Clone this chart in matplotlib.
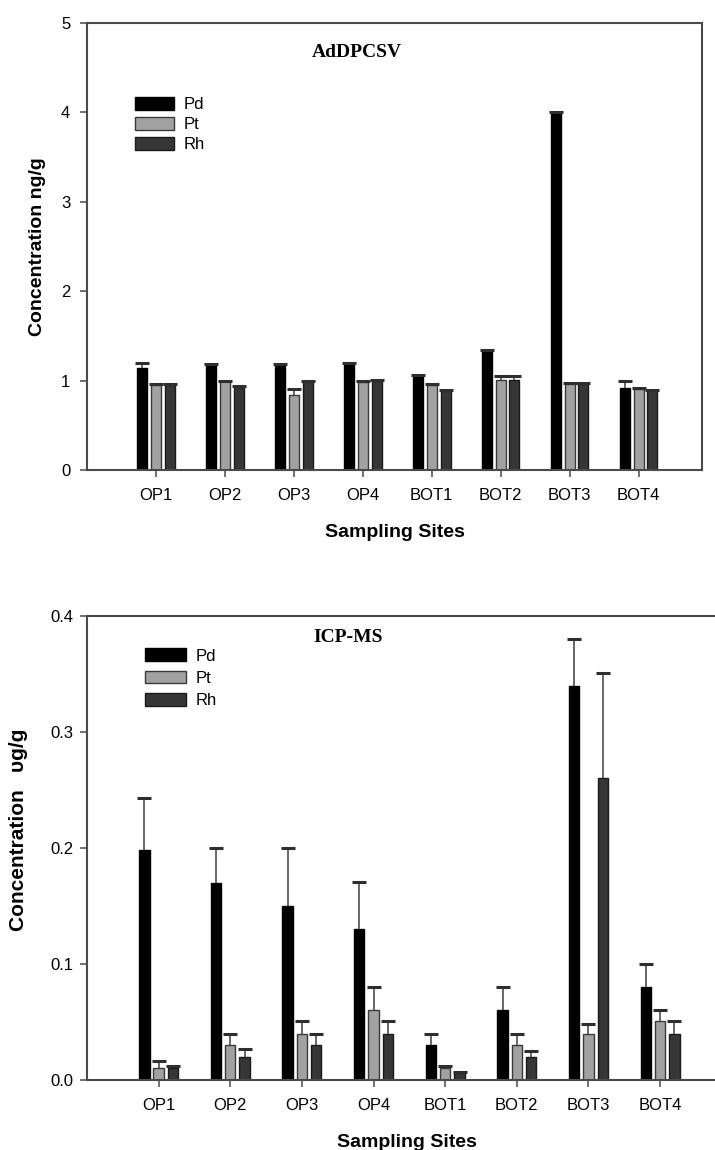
import numpy as np
import matplotlib
matplotlib.use("Agg")
import matplotlib.pyplot as plt

sites = ["OP1", "OP2", "OP3", "OP4", "BOT1", "BOT2", "BOT3", "BOT4"]
metals = ["Pd", "Pt", "Rh"]

# AdDPCSV results (ng/g) and upper error bars
adsv_pd = [1.14, 1.18, 1.18, 1.18, 1.05, 1.33, 4.00, 0.92]
adsv_pt = [0.95, 0.99, 0.84, 0.98, 0.95, 1.01, 0.96, 0.91]
adsv_rh = [0.95, 0.93, 0.99, 1.00, 0.88, 1.01, 0.96, 0.89]
adsv_pd_err = [0.06, 0.01, 0.01, 0.02, 0.01, 0.01, 0.01, 0.07]
adsv_pt_err = [0.01, 0.01, 0.07, 0.01, 0.01, 0.04, 0.01, 0.01]
adsv_rh_err = [0.01, 0.01, 0.01, 0.01, 0.02, 0.04, 0.01, 0.01]

# ICP-MS results (ug/g) and upper error bars
icp_pd = [0.198, 0.170, 0.150, 0.130, 0.030, 0.060, 0.340, 0.080]
icp_pt = [0.010, 0.030, 0.040, 0.060, 0.010, 0.030, 0.040, 0.051]
icp_rh = [0.010, 0.020, 0.030, 0.040, 0.006, 0.020, 0.260, 0.040]
icp_pd_err = [0.045, 0.030, 0.050, 0.041, 0.010, 0.020, 0.040, 0.020]
icp_pt_err = [0.006, 0.010, 0.011, 0.020, 0.002, 0.010, 0.008, 0.009]
icp_rh_err = [0.002, 0.007, 0.010, 0.011, 0.001, 0.005, 0.091, 0.011]

face_colors = ["#000000", "#a2a2a2", "#363636"]
edge_colors = ["#000000", "#3a3a3a", "#1a1a1a"]
spine_color = "#4a4a4a"

sans = ["Liberation Sans", "DejaVu Sans"]
serif = ["Liberation Serif", "DejaVu Serif"]

fig = plt.figure(figsize=(7.15, 11.5), dpi=100)


def draw_panel(ax, series, errors, yticks, ytick_labels, ylabel, ylabel_size,
               ylabel_pad, ytick_pad, title, title_xy, legend_anchor,
               legend_spacing, legend_handle):
    x = np.arange(len(sites))
    width = 0.145
    offsets = [-0.2, 0.0, 0.2]
    for vals, errs, off, fc, ec, name in zip(series, errors, offsets,
                                             face_colors, edge_colors, metals):
        vals = np.asarray(vals)
        errs = np.asarray(errs)
        pos = x + off
        ax.bar(pos, vals, width, color=fc, edgecolor=ec, linewidth=1.0,
               label=name, zorder=2)
        # upward-only error bars: stem plus a single top cap
        ax.errorbar(pos, vals, yerr=[np.zeros(len(vals)), errs], fmt="none",
                    ecolor="#5a5a5a", elinewidth=1.3, capsize=0, zorder=3)
        ax.plot(pos, vals + errs, linestyle="none", marker="_",
                markersize=10, markeredgewidth=2.2, color="#2e2e2e",
                zorder=4)
    ax.set_xlim(-1.0, 7.92)
    ax.set_ylim(yticks[0], yticks[-1])
    ax.set_xticks(x)
    ax.set_xticklabels(sites, family=sans, fontsize=12)
    ax.set_yticks(yticks)
    ax.set_yticklabels(ytick_labels, family=sans, fontsize=12)
    ax.tick_params(axis="both", direction="out", length=5, width=1.1,
                   color=spine_color)
    ax.tick_params(axis="x", pad=8)
    ax.tick_params(axis="y", pad=ytick_pad)
    for s in ax.spines.values():
        s.set_color(spine_color)
        s.set_linewidth(1.5)
    ax.set_xlabel("Sampling Sites", family=sans, fontsize=14,
                  fontweight="bold", labelpad=15)
    ax.set_ylabel(ylabel, family=sans, fontsize=ylabel_size,
                  fontweight="bold", labelpad=ylabel_pad)
    ax.text(title_xy[0], title_xy[1], title, transform=ax.transAxes,
            family=serif, fontsize=14, fontweight="bold", ha="center",
            va="center")
    ax.legend(loc="upper left", bbox_to_anchor=legend_anchor,
              frameon=False, prop={"family": sans, "size": 12},
              handlelength=legend_handle, handleheight=0.8,
              labelspacing=legend_spacing, handletextpad=0.55,
              borderpad=0, borderaxespad=0)


ax1 = fig.add_axes([0.1217, 0.5913, 0.8601, 0.3887])
draw_panel(ax1, [adsv_pd, adsv_pt, adsv_rh],
           [adsv_pd_err, adsv_pt_err, adsv_rh_err],
           [0, 1, 2, 3, 4, 5], ["0", "1", "2", "3", "4", "5"],
           "Concentration ng/g", 14, 11, 7,
           "AdDPCSV", (0.439, 0.935), (0.078, 0.835), 0.3, 2.35)

ax2 = fig.add_axes([0.1217, 0.0609, 0.8937, 0.4035])
draw_panel(ax2, [icp_pd, icp_pt, icp_rh],
           [icp_pd_err, icp_pt_err, icp_rh_err],
           [0.0, 0.1, 0.2, 0.3, 0.4], ["0.0", "0.1", "0.2", "0.3", "0.4"],
           "Concentration   \u03c5g/g", 15, 16, 5,
           "ICP-MS", (0.408, 0.953), (0.09, 0.93), 0.42, 2.5)
ax2.yaxis.label.set_y(0.54)

fig.savefig("out.png", dpi=100, facecolor="white")
